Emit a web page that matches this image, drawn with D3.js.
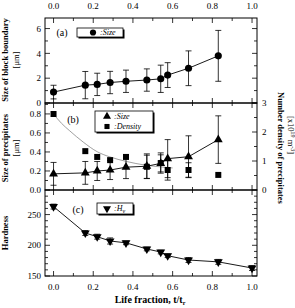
<!DOCTYPE html>
<html>
<head>
<meta charset="utf-8">
<script src="https://cdn.jsdelivr.net/npm/d3@7"></script>
<style>
  body { margin: 0; background: #fff; }
  svg { display: block; font-family: "Liberation Serif", "DejaVu Serif", serif; }
</style>
</head>
<body>
<svg id="chart" width="295" height="308"></svg>
<script>
// life fraction t/tr
const lifeFraction = [0.0, 0.16, 0.22, 0.285, 0.365, 0.47, 0.54, 0.575, 0.68, 0.83];
const lifeFractionC = [0.0, 0.16, 0.22, 0.285, 0.365, 0.47, 0.54, 0.575, 0.68, 0.83, 1.0];

// (a) size of block boundary [um]
const blockSize = [0.88, 1.44, 1.5, 1.65, 1.75, 1.85, 1.95, 2.25, 2.8, 3.8];
const blockErr = [0.55, 1.1, 0.9, 0.9, 0.9, 0.9, 1.1, 1.0, 1.4, 2.05];

// (b) size of precipitates [um] and number density [x10^19 m^-3]
const precSize = [0.17, 0.18, 0.2, 0.21, 0.24, 0.25, 0.28, 0.33, 0.35, 0.53];
const precSizeErr = [0.12, 0.12, 0.1, 0.1, 0.12, 0.13, 0.09, 0.2, 0.22, 0.25];
const density = [2.62, 1.34, 1.14, 1.03, 1.14, 0.8, 0.93, 0.69, 0.69, 0.52];
const densityErr = [0, 0, 0, 0, 0, 0.4, 0.35, 0.35, 0.25, 0];
// fitted curve through the density
const fitX = [0.0, 0.04, 0.08, 0.15, 0.22, 0.28, 0.37, 0.46, 0.55, 0.6];
const fitY = [2.62, 2.3, 2.05, 1.65, 1.32, 1.15, 0.98, 0.86, 0.79, 0.76];

// (c) hardness Hv
const hardness = [263, 220, 214, 207, 204, 194, 189, 183, 176, 173, 163];
const hardnessErr = [4, 4, 4, 5, 3, 3, 3, 3, 4, 4, 4];

const xTicks = [0.0, 0.2, 0.4, 0.6, 0.8, 1.0];

const svg = d3.select("#chart");
const L = 45, R = 257;
const x = d3.scaleLinear().domain([-0.043, 1.025]).range([L, R]);

const panels = {
  a: [18, 103],
  b: [103, 190],
  c: [190, 276]
};
const yA = d3.scaleLinear().domain([0, 6.85]).range([panels.a[1], panels.a[0]]);
const yB = d3.scaleLinear().domain([0, 0.915]).range([panels.b[1], panels.b[0]]);
const yB2 = d3.scaleLinear().domain([0, 3]).range([panels.b[1], panels.b[0]]);
const yC = d3.scaleLinear().domain([150, 290]).range([panels.c[1], panels.c[0]]);

const fmt1 = d3.format(".1f");

// frame + ticks for every panel
function frame(top, bottom) {
  svg.append("rect").attr("x", L).attr("y", top).attr("width", R - L).attr("height", bottom - top)
    .attr("fill", "none").attr("stroke", "#000").attr("stroke-width", 1);
  const minor = d3.range(0, 1.01, 0.1);
  [[top, 1], [bottom, -1]].forEach(([yy, dir]) => {
    svg.append("g").selectAll("line").data(minor).enter().append("line")
      .attr("x1", d => x(d)).attr("x2", d => x(d))
      .attr("y1", yy).attr("y2", d => yy + dir * (Math.round(d * 10) % 2 === 0 ? 5 : 3))
      .attr("stroke", "#000").attr("stroke-width", 0.8);
  });
}

function yTicks(scale, side, majors, minors, labels, f) {
  const xx = side === "left" ? L : R;
  const dir = side === "left" ? 1 : -1;
  const g = svg.append("g");
  g.selectAll("line.mi").data(minors).enter().append("line")
    .attr("x1", xx).attr("x2", xx + dir * 3).attr("y1", d => scale(d)).attr("y2", d => scale(d))
    .attr("stroke", "#000").attr("stroke-width", 0.8);
  g.selectAll("line.ma").data(majors).enter().append("line")
    .attr("x1", xx).attr("x2", xx + dir * 5).attr("y1", d => scale(d)).attr("y2", d => scale(d))
    .attr("stroke", "#000").attr("stroke-width", 0.8);
  if (labels) {
    g.selectAll("text").data(majors).enter().append("text")
      .attr("x", side === "left" ? xx - 4 : xx + 5)
      .attr("y", d => scale(d)).attr("dy", "0.35em")
      .attr("text-anchor", side === "left" ? "end" : "start")
      .attr("font-size", 9).text(f);
  }
}

frame(panels.a[0], panels.a[1]);
frame(panels.b[0], panels.b[1]);
frame(panels.c[0], panels.c[1]);

yTicks(yA, "left", [0, 2, 4, 6], [1, 3, 5], true, d => d);
yTicks(yA, "right", [0, 2, 4, 6], [1, 3, 5], false);
yTicks(yB, "left", [0, 0.2, 0.4, 0.6, 0.8], [0.1, 0.3, 0.5, 0.7, 0.9], true, fmt1);
yTicks(yB2, "right", [0, 1, 2, 3], [0.5, 1.5, 2.5], true, d => d);
yTicks(yC, "left", [150, 200, 250], d3.range(160, 290, 10).filter(d => d % 50), true, d => d);
yTicks(yC, "right", [150, 200, 250], d3.range(160, 290, 10).filter(d => d % 50), false);

// top and bottom x labels
svg.append("g").selectAll("text").data(xTicks).enter().append("text")
  .attr("x", d => x(d)).attr("y", 9).attr("text-anchor", "middle").attr("font-size", 9).text(fmt1);
svg.append("g").selectAll("text").data(xTicks).enter().append("text")
  .attr("x", d => x(d)).attr("y", 290).attr("text-anchor", "middle").attr("font-size", 9).text(fmt1);

// series helpers
function series(xs, ys, errs, yScale, sym, size, rot, withLine) {
  const g = svg.append("g");
  if (withLine) {
    g.append("path").datum(xs.map((d, i) => [d, ys[i]]))
      .attr("d", d3.line().x(d => x(d[0])).y(d => yScale(d[1])))
      .attr("fill", "none").attr("stroke", "#000").attr("stroke-width", 0.9);
  }
  xs.forEach((d, i) => {
    if (!errs[i]) return;
    const cx = x(d), y1 = yScale(ys[i] - errs[i]), y2 = yScale(ys[i] + errs[i]);
    g.append("line").attr("x1", cx).attr("x2", cx).attr("y1", y1).attr("y2", y2)
      .attr("stroke", "#000").attr("stroke-width", 0.8);
    [y1, y2].forEach(yy => g.append("line").attr("x1", cx - 3).attr("x2", cx + 3)
      .attr("y1", yy).attr("y2", yy).attr("stroke", "#000").attr("stroke-width", 0.8));
  });
  g.selectAll("path.m").data(xs).enter().append("path")
    .attr("class", "m")
    .attr("d", d3.symbol().type(sym).size(size))
    .attr("transform", (d, i) => `translate(${x(d)},${yScale(ys[i])}) rotate(${rot})`)
    .attr("fill", "#000");
}

// (a)
series(lifeFraction, blockSize, blockErr, yA, d3.symbolCircle, 40, 0, true);

// (b) fitted curve
svg.append("path").datum(fitX.map((d, i) => [d, fitY[i]]))
  .attr("d", d3.line().curve(d3.curveMonotoneX).x(d => x(d[0])).y(d => yB2(d[1])))
  .attr("fill", "none").attr("stroke", "#777").attr("stroke-width", 0.7);
series(lifeFraction, density, densityErr, yB2, d3.symbolSquare, 36, 0, false);
series(lifeFraction, precSize, precSizeErr, yB, d3.symbolTriangle, 34, 0, true);

// (c)
series(lifeFractionC, hardness, hardnessErr, yC, d3.symbolTriangle, 34, 180, true);

// panel tags
[["(a)", 62, 36], ["(b)", 73, 123], ["(c)", 78, 213]].forEach(([t, xx, yy]) =>
  svg.append("text").attr("x", xx).attr("y", yy).attr("text-anchor", "middle")
    .attr("font-size", 10).text(t));

// legends
function legendBox(x0, y0, w, h) {
  svg.append("rect").attr("x", x0 + 1.5).attr("y", y0 + 1.5).attr("width", w).attr("height", h).attr("fill", "#000");
  svg.append("rect").attr("x", x0).attr("y", y0).attr("width", w).attr("height", h)
    .attr("fill", "#fff").attr("stroke", "#000").attr("stroke-width", 0.8);
}
function legendItem(sym, size, rot, lx, ly, label, sub) {
  svg.append("path").attr("d", d3.symbol().type(sym).size(size)())
    .attr("transform", `translate(${lx},${ly}) rotate(${rot})`).attr("fill", "#000");
  const t = svg.append("text").attr("x", lx + 7).attr("y", ly).attr("dy", "0.35em")
    .attr("font-size", 8).attr("font-style", "italic").text(label);
  if (sub) t.append("tspan").attr("font-size", 6).attr("dy", 2).text(sub);
}
legendBox(77, 28, 46, 9);
legendItem(d3.symbolCircle, 30, 0, 93, 32.5, ":Size");
legendBox(95, 111, 58, 21);
legendItem(d3.symbolTriangle, 28, 0, 107, 116.5, ":Size");
legendItem(d3.symbolSquare, 26, 0, 107, 126.5, ":Density");
legendBox(97, 203, 36, 11);
legendItem(d3.symbolTriangle, 28, 180, 107, 208.5, ":H", "v");

// axis titles
function vText(t, xx, yy, bold, size, rot) {
  return svg.append("text").attr("transform", `translate(${xx},${yy}) rotate(${rot || -90})`)
    .attr("text-anchor", "middle").attr("font-size", size)
    .attr("font-weight", bold ? "bold" : "normal").text(t);
}
vText("Size of block boundary", 8, 60, true, 8.5);
vText("[μm]", 19, 60, false, 8.5);
vText("Size of precipitates", 8, 148, true, 8.5);
vText("[μm]", 19, 148, false, 8.5);
vText("Hardness", 8, 233, true, 8.5);
vText("Number density of precipitates", 278, 148, true, 8.5, 90);
const br = vText("[x10", 288, 135, false, 8.5, 90);
br.append("tspan").attr("font-size", 6).attr("dy", -3).text("19");
br.append("tspan").attr("dy", 3).text(" m");
br.append("tspan").attr("font-size", 6).attr("dy", -3).text("-3");
br.append("tspan").attr("dy", 3).text("]");

const xl = svg.append("text").attr("x", 150).attr("y", 303).attr("text-anchor", "middle")
  .attr("font-size", 10).attr("font-weight", "bold").text("Life fraction, t/t");
xl.append("tspan").attr("font-size", 6).attr("dy", 1.5).text("r");
</script>
</body>
</html>
